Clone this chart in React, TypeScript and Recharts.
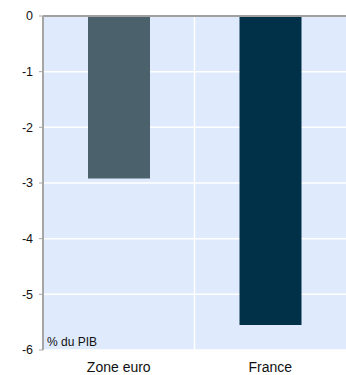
import { BarChart, Bar, XAxis, YAxis, CartesianGrid, ReferenceLine } from 'recharts';

const categories = ['Zone euro', 'France'];
const values = [-2.92, -5.55];
const barColors = ['#4b616b', '#003149'];
const yTicks = [0, -1, -2, -3, -4, -5, -6];

const data = categories.map((name, i) => ({ name, value: values[i], fill: barColors[i] }));

export default function App() {
  return (
    <div style={{ position: 'absolute', left: 0, top: 0, width: 346, height: 375, background: '#fff', fontFamily: 'Arial, "Liberation Sans", sans-serif' }}>
      <BarChart width={346} height={375} data={data} margin={{ top: 16, right: 0, bottom: 0, left: 0 }} barCategoryGap="30%">
        <CartesianGrid
          fill="#dfeafc"
          stroke="#ffffff"
          strokeWidth={1.5}
          verticalCoordinatesGenerator={({ offset }: any) => [offset.left + offset.width / 2]}
        />
        <XAxis
          dataKey="name"
          axisLine={false}
          tickLine={false}
          height={25}
          tickMargin={6}
          tick={{ fontSize: 14, fill: '#111', fontFamily: 'Arial, "Liberation Sans", sans-serif' }}
        />
        <YAxis
          domain={[-6, 0]}
          ticks={yTicks}
          width={43}
          interval={0}
          axisLine={{ stroke: '#a6a6a6', strokeWidth: 2 }}
          tickLine={{ stroke: '#a6a6a6' }}
          tickSize={4}
          tickMargin={6}
          tick={{ fontSize: 12.5, fill: '#111', fontFamily: 'Arial, "Liberation Sans", sans-serif' }}
        />
        <ReferenceLine y={0} stroke="#a0a0a0" strokeWidth={2} />
        <ReferenceLine
          y={-6}
          stroke="none"
          label={{ value: '% du PIB', position: 'insideBottomLeft', fontSize: 12, fill: '#111', offset: 4, fontFamily: 'Arial, "Liberation Sans", sans-serif' }}
        />
        <Bar dataKey="value" barSize={62} isAnimationActive={false} />
      </BarChart>
    </div>
  );
}
